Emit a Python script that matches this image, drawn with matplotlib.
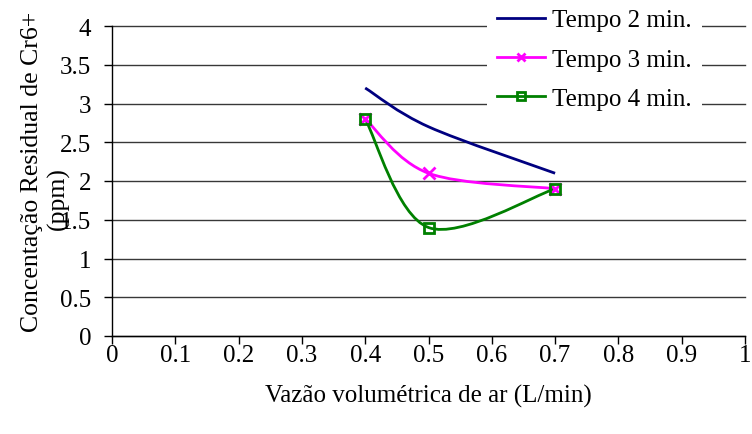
import matplotlib.pyplot as plt
from matplotlib.path import Path
from matplotlib.patches import PathPatch
from matplotlib.lines import Line2D

# Vazão de ar (L/min) e concentração residual de Cr6+ (ppm)
vazao = [0.4, 0.5, 0.7]
tempo2 = [3.2, 2.7, 2.1]
tempo3 = [2.8, 2.1, 1.9]
tempo4 = [2.8, 1.4, 1.9]

series_labels = ["Tempo 2 min.", "Tempo 3 min.", "Tempo 4 min."]
x_ticks = [0, 0.1, 0.2, 0.3, 0.4, 0.5, 0.6, 0.7, 0.8, 0.9, 1]
y_ticks = [0, 0.5, 1, 1.5, 2, 2.5, 3, 3.5, 4]

plt.rcParams['font.family'] = ['Liberation Serif', 'DejaVu Serif']
plt.rcParams['font.size'] = 18

W, H = 752, 435


def smooth_path(xs, ys):
    """Bezier path through the points, spreadsheet-style smoothing."""
    pts = list(zip(xs, ys))
    verts = [pts[0]]
    codes = [Path.MOVETO]
    n = len(pts)
    for i in range(n - 1):
        p0 = pts[max(i - 1, 0)]
        p1 = pts[i]
        p2 = pts[i + 1]
        p3 = pts[min(i + 2, n - 1)]
        c1 = (p1[0] + (p2[0] - p0[0]) / 6, p1[1] + (p2[1] - p0[1]) / 6)
        c2 = (p2[0] - (p3[0] - p1[0]) / 6, p2[1] - (p3[1] - p1[1]) / 6)
        verts += [c1, c2, p2]
        codes += [Path.CURVE4] * 3
    return Path(verts, codes)


fig = plt.figure(figsize=(W / 100, H / 100), dpi=100)
ax = fig.add_axes([112 / W, 98 / H, 633 / W, 310 / H])

styles = [
    dict(color='#000080', marker=None),
    dict(color='#ff00ff', marker='x'),
    dict(color='#008000', marker='s'),
]

handles = []
for ys, st, lab in zip([tempo2, tempo3, tempo4], styles, series_labels):
    patch = PathPatch(smooth_path(vazao, ys), facecolor='none',
                      edgecolor=st['color'], lw=2, zorder=3)
    ax.add_patch(patch)
    if st['marker'] == 'x':
        ax.plot(vazao, ys, linestyle='none', marker='x', ms=8, mew=2,
                color=st['color'], zorder=4)
    elif st['marker'] == 's':
        ax.plot(vazao, ys, linestyle='none', marker='s', ms=7, mew=2,
                mec=st['color'], mfc='none', zorder=5)
    handles.append(Line2D([], [], color=st['color'], lw=2,
                          marker=st['marker'] or None,
                          ms=6, mew=2, mfc='none' if st['marker'] == 's' else st['color']))

ax.set_xlim(0, 1)
ax.set_ylim(0, 4)
ax.set_xticks(x_ticks)
ax.set_xticklabels([f"{t:g}" for t in x_ticks])
ax.set_yticks(y_ticks)
ax.set_yticklabels([f"{t:g}" for t in y_ticks])

ax.grid(axis='y', color='#383838', lw=1)
for gl in ax.get_ygridlines():
    gl.set_clip_on(False)
ax.set_axisbelow(True)

for s in ['top', 'right']:
    ax.spines[s].set_visible(False)
ax.spines['left'].set_linewidth(1)
ax.spines['bottom'].set_linewidth(1)
ax.tick_params(direction='out', length=6, width=1)
ax.tick_params(axis='x', pad=0)
ax.tick_params(axis='y', pad=9)

ax.set_xlabel("Vazão volumétrica de ar (L/min)", labelpad=13)

# y-axis title, wrapped onto two lines
fig.text(32 / W, 1 - 172 / H, "Concentação Residual de Cr6+",
         rotation=90, ha='center', va='center', fontsize=18.5)
fig.text(58 / W, 1 - 199 / H, "(ppm)",
         rotation=90, ha='center', va='center', fontsize=18.5)

leg = ax.legend(handles, series_labels, loc='upper left',
                bbox_to_anchor=(487 / W, 1.0), bbox_transform=fig.transFigure,
                frameon=True, fancybox=False, framealpha=1,
                facecolor='white', edgecolor='none', handlelength=1.9,
                handletextpad=0.3, labelspacing=0.67, borderpad=0.4,
                borderaxespad=0)
leg.set_zorder(10)

fig.savefig("out.png", dpi=100)
